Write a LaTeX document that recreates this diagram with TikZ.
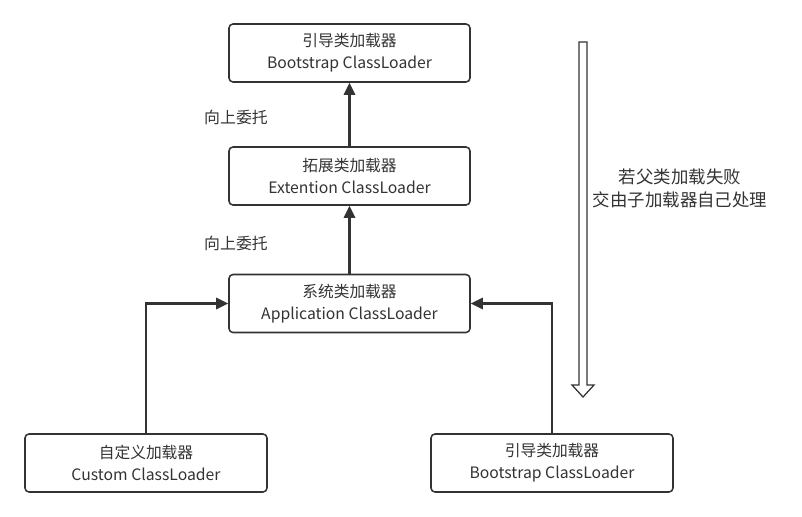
\documentclass[tikz,border=0pt]{standalone}
\usepackage{fontspec}
\setmainfont{Noto Sans CJK SC}
\usetikzlibrary{arrows.meta}
\usetikzlibrary{positioning}

\definecolor{ink}{HTML}{333333}

\tikzset{
  loader/.style = {draw = ink, line width = 1.1pt, rounded corners = 0.1cm,
    minimum width = 6.025cm, minimum height = 1.45cm, align = center,
    text = ink, font = \fontsize{11.2pt}{15.6pt}\selectfont},
  delegate/.style = {draw = ink, line width = 1.5pt,
    -{Triangle[length = 0.3cm, width = 0.28cm]}},
  note/.style = {text = ink, font = \fontsize{11.3pt}{16pt}\selectfont,
    align = center}
}

\begin{document}
\begin{tikzpicture}
  \useasboundingbox (0, 0) rectangle (20.05cm, -12.925cm);

  % chain of parents
  \node[loader] (boot) at (8.7375cm, -1.325cm)
  {引导类加载器\\Bootstrap ClassLoader};
  \node[loader] (ext) at (8.7375cm, -4.4cm)
  {拓展类加载器\\Extention ClassLoader};
  \node[loader] (app) at (8.7375cm, -7.5875cm)
  {系统类加载器\\Application ClassLoader};
  \node[loader, minimum width = 6.05cm] (custom) at (3.65cm, -11.575cm)
  {自定义加载器\\Custom ClassLoader};
  \node[loader, minimum width = 6.05cm] (boot2) at (13.8cm, -11.575cm)
  {引导类加载器\\Bootstrap ClassLoader};

  \draw[delegate] (ext) -- (boot);
  \draw[delegate] (app) -- (ext);
  \draw[delegate] (custom.north) |- (app.west);
  \draw[delegate] (boot2.north) |- (app.east);

  \node[note] (up1) at (5.9cm, -2.925cm) {向上委托};
  \node[note] (up2) at (5.9cm, -6.075cm) {向上委托};

  % hollow arrow back down
  \draw[ink, line width = 0.9pt, line join = miter] (14.475cm, -1.05cm)
  -- (14.675cm, -1.05cm) -- (14.675cm, -9.625cm) -- (14.85cm, -9.625cm)
  -- (14.575cm, -9.925cm) -- (14.3cm, -9.625cm) -- (14.475cm, -9.625cm)
  -- cycle;

  \node[note, font = \fontsize{12.4pt}{16.4pt}\selectfont] (fail)
  at (17.0cm, -4.7cm) {若父类加载失败\\交由子加载器自己处理};
\end{tikzpicture}
\end{document}
